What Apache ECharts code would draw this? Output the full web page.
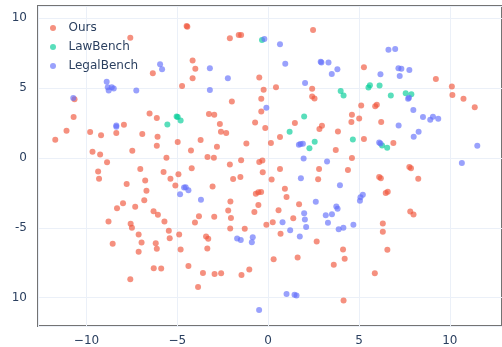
<!DOCTYPE html>
<html>
<head>
<meta charset="utf-8">
<script src="https://cdn.jsdelivr.net/npm/echarts@6/dist/echarts.min.js"></script>
<style>
  html, body { margin: 0; padding: 0; background: #fff; }
  #chart { width: 502px; height: 347px; }
</style>
</head>
<body>
<div id="chart"></div>
<script>
// t-SNE style embedding points, [x, y]
const oursPts = [
  [-4.49,9.45],[-4.45,9.40],[-7.59,8.61],[-4.16,6.97],[-6.35,6.07],[-4.16,5.71],[-4.74,5.16],[-10.66,4.21],
  [-6.53,3.19],[-6.13,2.86],[-10.71,2.93],[-7.94,2.38],[-11.1,1.95],[-11.72,1.31],[-9.8,1.86],[-9.2,1.62],
  [-8.36,1.79],[-6.93,1.71],[-6.09,1.52],[-6.13,0.88],[-4.98,1.14],[-9.67,0.45],[-9.25,0.24],[-7.48,0.52],
  [-4.25,0.54],[-5.6,0.02],[-8.87,-0.31],
  [2.47,9.16],[-2.11,8.57],[-1.62,8.81],[-1.49,8.81],[-4.01,6.38],[-0.49,5.76],[-0.25,4.88],[0.43,5.07],
  [2.42,4.95],[2.42,4.4],[2.55,4.26],[-2.0,4.04],[-0.38,4.24],[-0.38,3.33],[-3.26,3.14],[-2.97,3.09],
  [-2.66,2.43],[-0.72,2.54],[-0.16,2.14],[-2.6,1.88],[-2.31,1.79],[1.47,2.5],[2.96,2.31],[2.82,2.07],
  [3.84,1.9],[0.65,1.5],[-3.72,1.29],[-2.82,0.81],[-1.2,1.04],[0.15,1.07],[3.72,0.57],[-3.34,0.07],
  [-2.99,0.02],[-1.49,-0.17],[-2.11,-0.46],[-0.49,-0.29],[-0.32,-0.19],
  [5.27,6.5],[9.23,5.66],[10.11,5.11],[10.14,4.5],[10.75,4.24],[11.37,3.64],[5.12,3.76],[5.89,3.71],
  [5.98,3.81],[4.61,3.09],[5.01,2.83],[4.58,2.57],[6.22,2.57],[5.27,1.36],[6.89,1.07],[4.61,0.0],
  [-9.36,-0.96],[-9.31,-1.48],[-7.04,-0.79],[-5.76,-1.0],[-5.38,-1.48],[-4.94,-1.17],[-4.21,-0.74],
  [-7.79,-1.86],[-6.77,-1.62],[-6.7,-2.34],[-5.11,-1.98],[-6.82,-3.03],[-7.99,-3.24],[-8.32,-3.6],
  [-7.32,-3.5],[-6.31,-3.81],[-6.07,-4.07],[-8.79,-4.55],[-7.57,-4.71],[-7.5,-5.0],[-5.71,-4.55],
  [-5.47,-5.21],[-4.9,-5.48],[-5.42,-5.74],[-7.13,-5.48],[-6.97,-6.05],[-8.56,-6.14],[-6.19,-6.1],
  [-6.13,-6.5],[-7.13,-6.71],[-4.82,-6.55],[-4.39,-7.74],[-6.3,-7.89],[-5.89,-7.91],[-7.59,-8.69],
  [-0.3,-1.03],[0.65,-0.79],[2.8,-0.79],[-1.93,-1.5],[-1.53,-1.36],[0.19,-1.55],[2.75,-1.53],[-3.06,-2.05],
  [-0.68,-2.57],[-0.54,-2.46],[-0.39,-2.43],[0.92,-2.21],[1.01,-2.79],[-2.08,-3.12],[-0.54,-3.36],
  [1.7,-3.31],[-2.2,-3.76],[-0.76,-3.86],[0.57,-3.74],[-3.81,-4.17],[-2.97,-4.21],[-2.05,-4.29],
  [-4.03,-4.62],[1.38,-4.31],[0.25,-4.6],[-0.1,-4.79],[-2.09,-5.05],[-1.29,-5.07],[0.68,-5.43],
  [-3.42,-5.62],[-3.3,-5.79],[2.67,-5.98],[-3.35,-6.48],[4.12,-6.55],[4.21,-7.21],[0.3,-7.26],
  [1.62,-7.12],[3.61,-7.64],[-1.04,-7.98],[-3.59,-8.24],[-2.95,-8.31],[-2.59,-8.26],[-1.47,-8.38],
  [-3.86,-9.24],[4.15,-10.21],
  [4.39,-0.86],[7.77,-0.64],[7.86,-0.74],[6.11,-1.36],[6.2,-1.46],[8.26,-1.48],[6.47,-2.5],[6.58,-2.41],
  [7.82,-3.84],[8.0,-4.05],[6.31,-4.69],[6.31,-5.29],[6.56,-6.57],[5.87,-8.26]
];

const lawBenchPts = [
  [-5.04,2.97],[-4.98,2.93],[-4.82,2.69],[-5.55,2.4],[-0.34,8.45],[3.99,4.79],[4.15,4.47],[1.98,2.97],
  [1.18,1.88],[2.56,1.16],[2.27,0.69],[5.52,5.04],[5.6,5.21],[6.13,5.19],[6.75,4.47],[7.57,4.64],
  [7.88,4.57],[4.66,1.33],[6.27,0.9],[6.55,0.74]
];

const legalBenchPts = [
  [-5.95,6.71],[-5.84,6.36],[-8.89,5.45],[-8.83,5.07],[-8.61,5.07],[-8.5,4.97],[-8.78,4.83],[-7.26,4.83],
  [-10.73,4.29],[-8.36,2.33],[-8.36,2.24],
  [-0.21,8.52],[0.65,8.14],[0.94,6.74],[-3.21,6.43],[-2.22,5.71],[2.89,6.88],[2.93,6.83],[3.32,6.83],
  [3.81,6.36],[3.5,6.02],[2.03,5.36],[-3.21,4.86],[-0.1,3.59],[1.78,1.0],[1.91,1.02],[1.69,0.95],
  [1.95,-0.03],[3.24,-0.26],
  [6.62,7.74],[6.99,7.81],[7.17,6.43],[7.33,6.38],[7.77,6.29],[6.18,6.0],[7.24,5.86],[7.7,4.24],
  [7.75,4.31],[7.99,3.43],[8.52,2.93],[8.92,2.74],[9.07,2.95],[9.36,2.81],[7.18,2.33],[8.28,1.88],
  [8.01,1.52],[6.11,1.11],[6.18,1.04],[11.51,0.88],[10.66,-0.36],
  [-4.63,-2.12],[-4.54,-2.1],[-4.39,-2.31],[-4.85,-2.6],
  [1.8,-1.46],[3.95,-1.96],[-3.7,-3.0],[2.62,-3.14],[3.75,-3.48],[3.82,-3.64],[1.98,-3.96],[3.17,-4.1],
  [3.51,-4.03],[2.02,-4.41],[0.79,-4.6],[3.29,-4.64],[2.09,-4.95],[1.21,-5.17],[3.88,-5.1],[4.14,-5.0],
  [1.74,-5.62],[-1.71,-5.76],[-1.51,-5.88],[-0.85,-5.67],[-0.9,-6.03],[1.01,-9.74],[1.45,-9.79],
  [1.56,-9.84],[-0.5,-10.89],
  [5.08,-2.81],[5.21,-2.64],[5.05,-3.07],[4.69,-4.79]
];

const seriesNames = ["Ours", "LawBench", "LegalBench"];
const seriesColors = ["#EF553B", "#00cc96", "#636efa"];

const textColor = "#2a3f5f";
const gridColor = "#EBF0F8";
const font = "DejaVu Sans";

const chart = echarts.init(document.getElementById("chart"), null, { renderer: "canvas" });

const mkSeries = (i, data) => ({
  name: seriesNames[i],
  type: "scatter",
  data: data,
  symbolSize: 6,
  itemStyle: { color: seriesColors[i], opacity: 0.65 },
  emphasis: { disabled: true }
});

const option = {
  animation: false,
  backgroundColor: "#fff",
  textStyle: { fontFamily: font },
  grid: {
    left: 38, right: -2, top: 6, bottom: 20,
    show: true, borderColor: "#737373", borderWidth: 2,
    backgroundColor: "transparent"
  },
  legend: {
    orient: "vertical",
    left: 45, top: 17,
    itemWidth: 21, itemHeight: 6, itemGap: 7,
    icon: "circle",
    textStyle: { color: textColor, fontSize: 12, fontFamily: font, lineHeight: 12 },
    data: seriesNames.map((n, i) => ({ name: n, itemStyle: { color: seriesColors[i], opacity: 0.65 } }))
  },
  xAxis: {
    type: "value",
    min: -12.67, max: 12.87,
    splitNumber: 5,
    axisLine: { show: false },
    axisTick: { show: false },
    splitLine: { lineStyle: { color: gridColor, width: 1 } },
    axisLabel: {
      color: textColor, fontSize: 12, fontFamily: font, margin: 9,
      showMinLabel: false, showMaxLabel: false,
      formatter: v => (v % 5 === 0 ? (v < 0 ? "\u2212" + Math.abs(v) : String(v)) : "")
    }
  },
  yAxis: {
    type: "value",
    min: -12.03, max: 10.88,
    splitNumber: 5,
    axisLine: { show: false },
    axisTick: { show: false },
    splitLine: { lineStyle: { color: gridColor, width: 1 } },
    axisLabel: {
      color: textColor, fontSize: 12, fontFamily: font, margin: 11,
      showMinLabel: false, showMaxLabel: false,
      formatter: v => {
        if (v % 5 !== 0) return "";
        if (v === -10) return "10";
        return String(v);
      }
    }
  },
  series: [
    mkSeries(0, oursPts),
    mkSeries(1, lawBenchPts),
    mkSeries(2, legalBenchPts)
  ]
};

chart.setOption(option);

window.addEventListener("resize", function () {
  chart.resize();
});
</script>
</body>
</html>
